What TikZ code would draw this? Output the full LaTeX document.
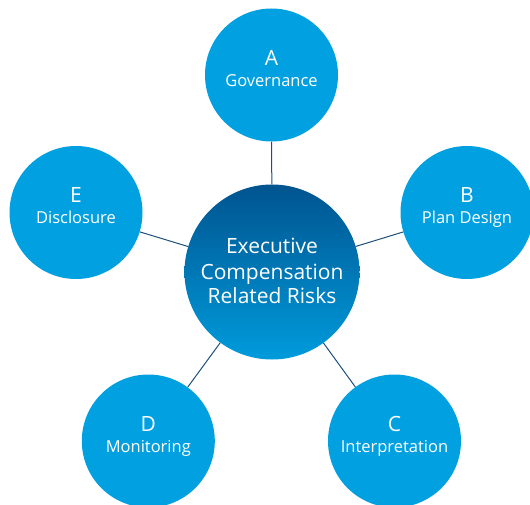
\documentclass[tikz,border=0pt]{standalone}
\usepackage{fontspec}
\setmainfont{Open Sans}
\definecolor{outerblue}{HTML}{00A0E1}
\definecolor{linkblue}{HTML}{1D4F7C}
\definecolor{topblue}{HTML}{00548F}
\definecolor{botblue}{HTML}{009BDC}
\tikzset{
  outer/.style={circle, fill=outerblue, minimum size=133pt, inner sep=0pt, draw=none},
  core/.style={circle, top color=topblue, bottom color=botblue, minimum size=175pt, inner sep=0pt, draw=none},
  link/.style={draw=linkblue, line width=1pt},
  letter/.style={anchor=base, text=white, font=\fontsize{21}{21}\selectfont, inner sep=0pt},
  sub/.style={anchor=base, text=white, font=\fontsize{16.5}{16.5}\selectfont, inner sep=0pt},
  coretext/.style={anchor=base, text=white, font=\fontsize{21}{21}\selectfont, inner sep=0pt}
}
\begin{document}
\begin{tikzpicture}[x=1pt,y=-1pt]
\useasboundingbox (0,0) rectangle (530,505);
\node[core] (ctr) at (272,272) {};
\node[outer] (a) at (271.5,75) {};
\node[outer] (b) at (467,212.5) {};
\node[outer] (c) at (394.5,441) {};
\node[outer] (d) at (148.3,441) {};
\node[outer] (e) at (76,212.5) {};
\foreach \n in {a,b,c,d,e} {\draw[link] (ctr) -- (\n);}
\node[coretext] (t1) at (272,254) {Executive};
\node[coretext] (t2) at (272,279) {Compensation};
\node[coretext] (t3) at (272,303) {Related Risks};
\node[letter] (la) at (271.5,65.5) {A};
\node[sub] (sa) at (271.5,86.5) {Governance};
\node[letter] (lb) at (467,203) {B};
\node[sub] (sb) at (467,224) {Plan Design};
\node[letter] (lc) at (394.5,431.5) {C};
\node[sub] (sc) at (394.5,452.5) {Interpretation};
\node[letter] (ld) at (148.3,431.5) {D};
\node[sub] (sd) at (148.3,452.5) {Monitoring};
\node[letter] (le) at (76,203) {E};
\node[sub] (se) at (76,224) {Disclosure};
\end{tikzpicture}
\end{document}
